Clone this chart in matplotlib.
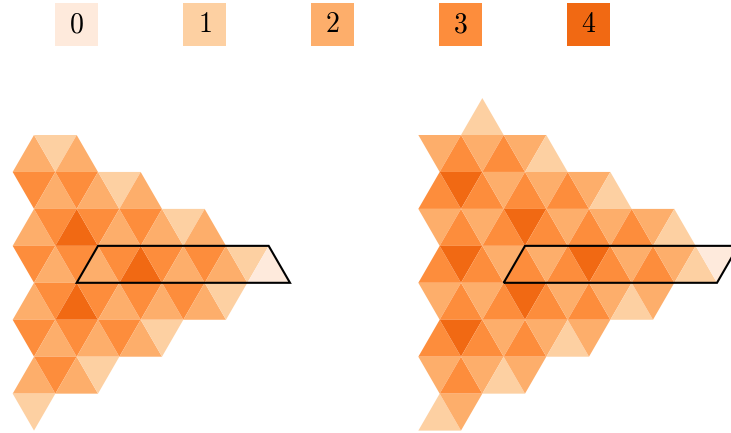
import numpy as np
import matplotlib.pyplot as plt
from matplotlib.collections import PolyCollection
from matplotlib.patches import Polygon, Rectangle

plt.rcParams['mathtext.fontset'] = 'cm'

levels = [0, 1, 2, 3, 4]
level_colors = ['#feeadc', '#fdd0a2', '#fdae6b', '#fd8d3c', '#f16913']

# counts per triangle, one list per row of the lattice (top to bottom)
left_rows = [
    [2, 1, 2],
    [3, 2, 3, 2, 1, 2],
    [2, 3, 4, 3, 2, 3, 2, 1, 2],
    [3, 2, 3, 2, 3, 4, 3, 2, 3, 2, 1, 0],
    [2, 3, 4, 3, 2, 3, 2, 3, 2, 1],
    [3, 2, 3, 2, 3, 2, 1],
    [2, 3, 2, 1],
    [1],
]
left_first_row = 0
left_row_starts = [0, 0, 0, 0, 0, 0, 0, 0]
left_window = (3, 3, 11)  # row, first column, last column

right_rows = [
    [1],
    [2, 3, 2, 3, 2, 1],
    [3, 4, 3, 2, 3, 2, 3, 2, 1],
    [2, 3, 2, 3, 4, 3, 2, 3, 2, 3, 2, 1],
    [3, 4, 3, 2, 3, 2, 3, 4, 3, 2, 3, 2, 1, 0],
    [2, 3, 2, 3, 4, 3, 2, 3, 2, 1, 2],
    [3, 4, 3, 2, 3, 2, 1, 2],
    [2, 3, 2, 1, 2],
    [1, 2],
]
right_first_row = -1
right_row_starts = [2, 0, 0, 0, 0, 0, 0, 0, 0]
right_window = (3, 4, 13)

W, H = 731, 433
SIDE = 128 / 3
ROW_H = SIDE * np.sqrt(3) / 2


def triangle(x0, y0, r, j, flip):
    xl = x0 + j * SIDE / 2
    yt = y0 + r * ROW_H
    yb = yt + ROW_H
    if (r + j + flip) % 2 == 0:
        return [(xl, yb), (xl + SIDE, yb), (xl + SIDE / 2, yt)]
    return [(xl, yt), (xl + SIDE, yt), (xl + SIDE / 2, yb)]


def draw_grid(ax, x0, y0, flip, rows, first_row, starts, window):
    polys, cols = [], []
    for k, (vals, j0) in enumerate(zip(rows, starts)):
        r = first_row + k
        for i, v in enumerate(vals):
            polys.append(triangle(x0, y0, r, j0 + i, flip))
            cols.append(level_colors[levels.index(v)])
    ax.add_collection(PolyCollection(polys, facecolors=cols, edgecolors='none'))

    # outline around one row strip
    r, ja, jb = window
    yt = y0 + r * ROW_H
    yb = yt + ROW_H
    pts = [p for j in range(ja, jb + 1) for p in triangle(x0, y0, r, j, flip)]
    bot = [p[0] for p in pts if abs(p[1] - yb) < 1e-6]
    top = [p[0] for p in pts if abs(p[1] - yt) < 1e-6]
    outline = [(min(bot), yb), (max(bot), yb), (max(top), yt), (min(top), yt)]
    ax.add_patch(Polygon(outline, closed=True, fill=False, edgecolor='black',
                         linewidth=1.5, joinstyle='miter'))


fig = plt.figure(figsize=(W / 100, H / 100), dpi=100)
ax = fig.add_axes([0, 0, 1, 1])
ax.set_xlim(0, W)
ax.set_ylim(H, 0)
ax.axis('off')

left_x0, right_x0, grid_y0 = 12.67, 418.33, 135.0
draw_grid(ax, left_x0, grid_y0, 0, left_rows, left_first_row, left_row_starts, left_window)
draw_grid(ax, right_x0, grid_y0, 1, right_rows, right_first_row, right_row_starts, right_window)

# colour key along the top
for k, (lev, c) in enumerate(zip(levels, level_colors)):
    cx = left_x0 + 1.5 * SIDE + 3 * SIDE * k
    cy = 24.2
    ax.add_patch(Rectangle((cx - SIDE / 2, cy - SIDE / 2), SIDE, SIDE,
                           facecolor=c, edgecolor='none'))
    ax.text(cx, cy, f'${lev}$', ha='center', va='center', fontsize=20)

fig.savefig('out.png', dpi=100)
